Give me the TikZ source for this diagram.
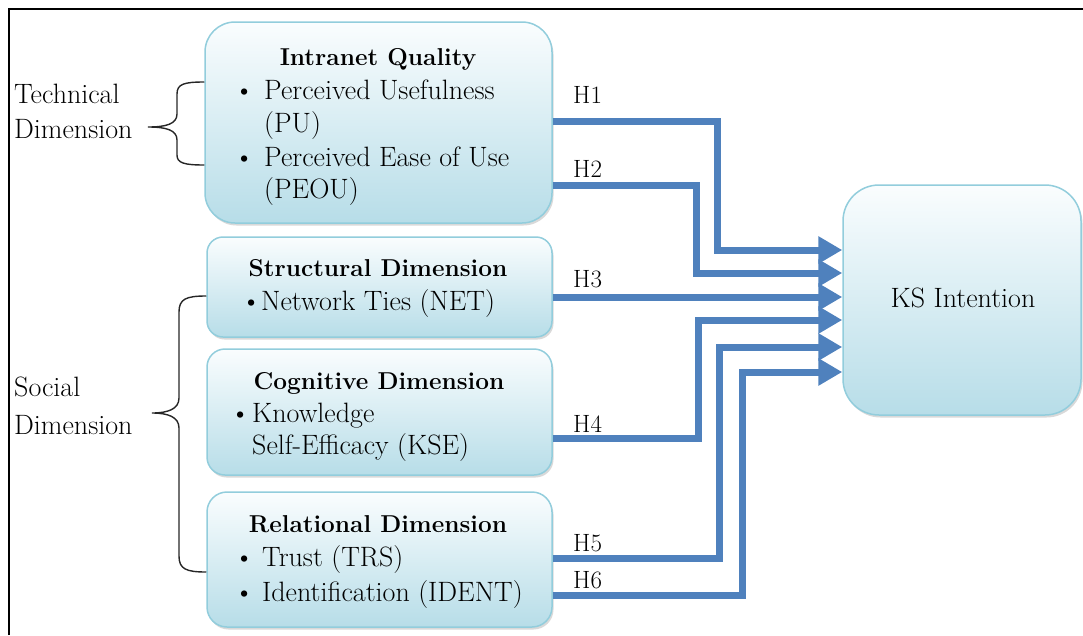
\documentclass[tikz,border=0pt]{standalone}
\usetikzlibrary{arrows.meta,shadows}

\definecolor{boxtop}{RGB}{250,253,254}
\definecolor{boxbot}{RGB}{183,221,232}
\definecolor{boxline}{RGB}{146,205,220}
\definecolor{hyp}{RGB}{79,129,189}

\newcommand{\bul}[1]{\makebox[#1][l]{\fontsize{28}{30}\selectfont\textbullet}}

\tikzset{
  panel/.style={draw=boxline, line width=1.5pt, top color=boxtop, bottom color=boxbot,
    drop shadow={opacity=0.25, shadow xshift=1.5pt, shadow yshift=-2.5pt, fill=black!60},
    inner sep=0pt},
  txt/.style={inner sep=0pt, anchor=base west, font=\fontsize{28}{32}\selectfont},
  ttl/.style={inner sep=0pt, anchor=base, font=\fontsize{24.4}{30}\selectfont\bfseries},
  hlab/.style={inner sep=0pt, anchor=base west, font=\fontsize{25}{30}\selectfont},
  hypline/.style={draw=hyp, line width=7pt, -{Triangle[length=24pt,width=26pt]}},
  bracestyle/.style={draw=black!85, line width=1.4pt},
}

\begin{document}
\begin{tikzpicture}[x=1pt,y=-1pt]
\useasboundingbox (0,0) rectangle (1083,635);

% frame (left and top edges)
\draw[line width=2.5pt] (9,635) -- (9,9) -- (1083,9);

% construct boxes
\node[panel, rounded corners=30pt, minimum width=347pt, minimum height=201pt] (iq) at (378.5,122.5) {};
\node[panel, rounded corners=16pt, minimum width=345pt, minimum height=100pt] (sd) at (379.5,287) {};
\node[panel, rounded corners=18pt, minimum width=345pt, minimum height=126pt] (cd) at (379.5,412) {};
\node[panel, rounded corners=20pt, minimum width=345pt, minimum height=135pt] (rd) at (379.5,559.5) {};
\node[panel, rounded corners=36pt, minimum width=238pt, minimum height=230pt] (ks) at (962,300) {};

% box texts
\node[ttl] (iqt) at (378,65) {Intranet Quality};
\node[txt] (iq1) at (234,99) {\bul{30pt}Perceived Usefulness};
\node[txt] (iq2) at (264,132) {(PU)};
\node[txt] (iq3) at (234,166) {\bul{30pt}Perceived Ease of Use};
\node[txt] (iq4) at (264,198) {(PEOU)};

\node[ttl] (sdt) at (378,276) {Structural Dimension};
\node[txt] (sd1) at (241,310) {\bul{20pt}Network Ties (NET)};

\node[ttl] (cdt) at (379,389) {Cognitive Dimension};
\node[txt] (cd1) at (230,422) {\bul{22pt}Knowledge};
\node[txt] (cd2) at (252,454) {Self-Efficacy (KSE)};

\node[ttl] (rdt) at (378,532) {Relational Dimension};
\node[txt] (rd1) at (234,566) {\bul{28pt}Trust (TRS)};
\node[txt] (rd2) at (234,601) {\bul{28pt}Identification (IDENT)};

\node[inner sep=0pt, anchor=base, font=\fontsize{28}{32}\selectfont] (kst) at (963,307) {KS Intention};

% dimension labels
\node[txt] (tech1) at (14,103) {Technical};
\node[txt] (tech2) at (14,138) {Dimension};
\node[txt] (soc1) at (14,396) {Social};
\node[txt] (soc2) at (14,434) {Dimension};

% braces
\draw[bracestyle] (iq.west |- 0,82) .. controls (184,82) and (177,84) .. (177,94)
  -- (177,114) .. controls (177,124) and (166,127) .. (148,127)
  .. controls (166,127) and (177,130) .. (177,140)
  -- (177,155) .. controls (177,163) and (184,165) .. (iq.west |- 0,165);
\draw[bracestyle] (sd.west |- 0,296) .. controls (186,296) and (179,299) .. (179,312)
  -- (179,398) .. controls (179,409) and (168,413) .. (152,413)
  .. controls (168,413) and (179,417) .. (179,428)
  -- (179,556) .. controls (179,569) and (186,572) .. (rd.west |- 0,572);

% hypotheses
\draw[hypline] (iq.east |- 0,121) -| (717,250) -- (ks.west |- 0,250);
\draw[hypline] (iq.east |- 0,185) -| (696,273) -- (ks.west |- 0,273);
\draw[hypline] (sd.east |- 0,297) -- (ks.west |- 0,297);
\draw[hypline] (cd.east |- 0,438) -| (698,320) -- (ks.west |- 0,320);
\draw[hypline] (rd.east |- 0,558) -| (719,347) -- (ks.west |- 0,347);
\draw[hypline] (rd.east |- 0,595) -| (742,372) -- (ks.west |- 0,372);

\node[hlab] (h1) at (573,103) {H1};
\node[hlab] (h2) at (573,177) {H2};
\node[hlab] (h3) at (573,287) {H3};
\node[hlab] (h4) at (573,432) {H4};
\node[hlab] (h5) at (573,551) {H5};
\node[hlab] (h6) at (573,588) {H6};
\end{tikzpicture}
\end{document}
